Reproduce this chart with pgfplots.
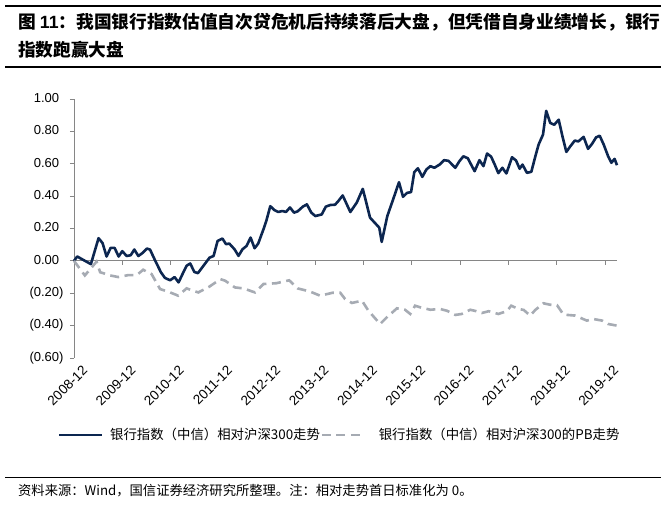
\documentclass[border=0pt]{standalone}
\usepackage{fontspec}
\setmainfont{Liberation Sans}
\newfontfamily\cjk{Noto Sans CJK SC}
\usepackage{pgfplots}
\pgfplotsset{compat=1.18}

\definecolor{navy}{RGB}{12,38,80}
\definecolor{pbgray}{RGB}{166,171,179}
\definecolor{axgray}{RGB}{134,134,134}

% months since 2008-12
\pgfplotstableread{
x y
0 0.000
0.8 0.027
2.3 0.006
4.2 -0.020
6.1 0.140
7.1 0.110
8.1 0.027
9.1 0.080
10.1 0.080
11.1 0.027
12.0 0.060
13.1 0.030
14.1 0.035
15.0 0.070
16.0 0.030
17.1 0.050
18.1 0.076
18.9 0.070
20.1 0.006
21.6 -0.070
22.6 -0.105
23.9 -0.120
25.0 -0.100
26.0 -0.133
27.2 -0.070
28.0 -0.030
28.9 -0.016
29.9 -0.068
30.8 -0.076
32.2 -0.030
33.7 0.020
34.7 0.030
35.7 0.123
36.9 0.138
37.8 0.103
38.6 0.107
39.9 0.072
40.9 0.031
41.9 0.072
42.9 0.092
43.9 0.144
44.9 0.078
45.8 0.107
47.1 0.195
47.8 0.246
48.8 0.338
49.8 0.314
50.8 0.302
51.8 0.308
52.7 0.302
53.7 0.330
54.7 0.298
55.6 0.306
56.9 0.335
57.9 0.349
59.0 0.298
60.0 0.277
61.6 0.287
62.6 0.335
63.7 0.345
64.9 0.347
65.7 0.369
66.8 0.404
68.7 0.302
70.3 0.360
71.8 0.445
73.6 0.267
74.9 0.232
75.9 0.205
76.5 0.117
77.9 0.277
79.4 0.384
80.8 0.486
81.8 0.396
82.8 0.420
83.8 0.425
84.6 0.548
85.5 0.572
86.6 0.519
87.6 0.564
88.6 0.585
89.6 0.575
90.9 0.595
92.0 0.622
93.1 0.618
94.8 0.575
95.8 0.615
96.8 0.646
97.9 0.634
99.6 0.554
100.8 0.622
101.8 0.585
102.7 0.663
103.7 0.644
104.6 0.595
105.5 0.542
106.5 0.575
107.5 0.540
108.9 0.640
109.9 0.620
110.8 0.569
111.5 0.595
112.6 0.544
113.7 0.550
114.7 0.646
115.5 0.718
116.6 0.780
117.4 0.927
118.4 0.852
119.4 0.841
120.5 0.872
121.5 0.763
122.4 0.673
123.4 0.708
124.5 0.743
125.4 0.738
126.7 0.766
127.8 0.692
128.8 0.723
129.8 0.763
130.7 0.773
131.7 0.718
132.8 0.646
133.6 0.606
134.4 0.630
135.0 0.591
}\bankrel

\pgfplotstableread{
x y
0 0.000
2.7 -0.090
5.6 -0.005
6.5 -0.070
9.0 -0.090
11.0 -0.100
13.5 -0.088
15.6 -0.088
17.2 -0.055
19.3 -0.082
21.4 -0.174
23.9 -0.195
25.9 -0.215
28.0 -0.170
30.9 -0.195
33.6 -0.160
36.4 -0.113
37.6 -0.123
40.0 -0.164
42.1 -0.170
45.0 -0.195
47.1 -0.143
50.3 -0.138
53.5 -0.120
55.6 -0.170
58.5 -0.188
61.2 -0.215
64.3 -0.197
66.2 -0.197
67.4 -0.236
69.1 -0.260
71.6 -0.246
73.2 -0.308
76.1 -0.390
77.8 -0.348
80.3 -0.293
82.3 -0.302
83.6 -0.328
84.8 -0.277
86.1 -0.287
88.6 -0.302
91.0 -0.297
92.7 -0.308
94.8 -0.334
96.4 -0.328
98.5 -0.302
99.9 -0.310
101.4 -0.322
103.1 -0.311
105.5 -0.328
107.6 -0.311
108.7 -0.277
110.5 -0.297
111.8 -0.303
113.4 -0.338
114.7 -0.303
116.7 -0.262
118.4 -0.271
120.1 -0.274
121.7 -0.332
124.6 -0.338
127.5 -0.369
129.1 -0.359
131.3 -0.369
132.8 -0.390
135.0 -0.400
}\pbrel

\begin{document}
\begin{tikzpicture}[x=1pt,y=1pt]
\useasboundingbox (0,0) rectangle (667,506);

% title block
\draw[line width=1.2pt] (5,500) -- (661,500);
\node[anchor=west, inner sep=0pt, font=\cjk\bfseries\fontsize{17.7}{20}\selectfont] at (18,484)
  {图 {\rmfamily\bfseries 11}：我国银行指数估值自次贷危机后持续落后大盘，但凭借自身业绩增长，银行};
\node[anchor=west, inner sep=0pt, font=\cjk\bfseries\fontsize{17.7}{20}\selectfont] at (18,456)
  {指数跑赢大盘};
\draw[line width=1.2pt] (5,439) -- (661,439);

% source block
\draw[line width=0.9pt] (5,29) -- (661,29);
\node[anchor=west, inner sep=0pt, font=\cjk\fontsize{13.3}{15}\selectfont] at (18,15)
  {资料来源：Wind，国信证券经济研究所整理。注：相对走势首日标准化为 0。};

\begin{axis}[
    at={(74pt,148pt)}, anchor=south west,
    scale only axis, width=543pt, height=259pt,
    xmin=0, xmax=135, ymin=-0.6, ymax=1.0,
    axis y line*=left, axis x line*=middle,
    axis line style={axgray, line width=0.8pt},
    xtick={0,12,...,132}, xticklabels={},
    ytick={-0.6,-0.4,-0.2,0,0.2,0.4,0.6,0.8,1.0},
    yticklabels={(0.60),(0.40),(0.20),0.00\phantom{)},0.20\phantom{)},0.40\phantom{)},0.60\phantom{)},0.80\phantom{)},1.00\phantom{)}},
    yticklabel style={font=\fontsize{13}{13}\selectfont, xshift=-3pt},
    tick style={axgray, line width=0.8pt},
    tick align=outside, major tick length=4pt,
    clip=false,
    legend columns=2,
    legend image code/.code={\draw[#1] (0pt,0pt) -- (43pt,0pt);},
    legend style={draw=none, fill=none, at={(-0.030,-0.297)}, anchor=west,
        inner sep=0pt, font=\cjk\fontsize{13.4}{15}\selectfont,
        /tikz/every odd column/.append style={column sep=6pt},
        nodes={inner sep=0.6pt}},
]
\addplot[navy, line width=2.6pt, line join=round] table[x=x, y=y] {\bankrel};
\addlegendentry{银行指数（中信）相对沪深300走势}
\addplot[pbgray, line width=2.6pt, dash pattern=on 9pt off 5.5pt] table[x=x, y=y] {\pbrel};
\addlegendentry{\ \ 银行指数（中信）相对沪深300的PB走势}
\end{axis}

\begin{axis}[
    at={(74pt,148pt)}, anchor=south west,
    scale only axis, width=543pt, height=259pt,
    xmin=0, xmax=135, ymin=-0.6, ymax=1.0,
    axis x line*=bottom, axis y line=none,
    x axis line style={draw=none},
    major x tick style={draw=none},
    xtick={0,12,...,132},
    xticklabels={2008-12,2009-12,2010-12,2011-12,2012-12,2013-12,2014-12,2015-12,2016-12,2017-12,2018-12,2019-12},
    xticklabel style={rotate=45, anchor=east, font=\fontsize{13.5}{13.5}\selectfont, xshift=4pt, yshift=-15pt},
]
\end{axis}
\end{tikzpicture}
\end{document}
